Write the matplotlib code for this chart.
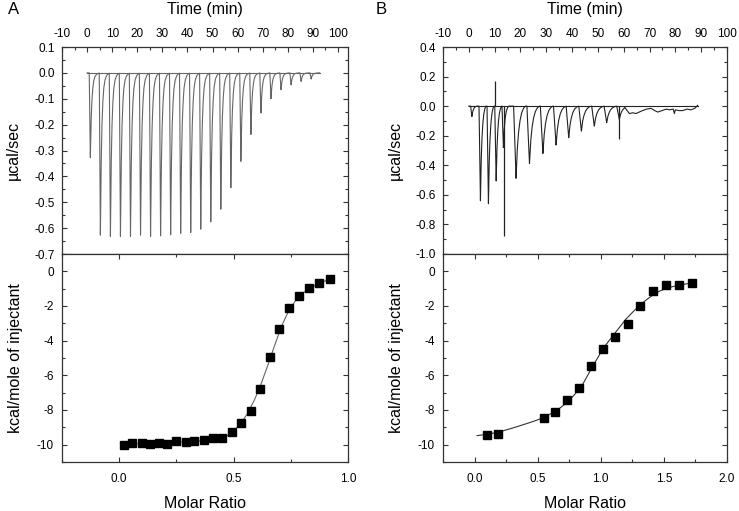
import numpy as np
import matplotlib as mpl
mpl.use("agg")
import matplotlib.pyplot as plt
from matplotlib.ticker import MultipleLocator, FormatStrFormatter

plt.rcParams["font.family"] = ["Liberation Sans", "DejaVu Sans"]
plt.rcParams["axes.unicode_minus"] = False

# ---------- panel A ----------
# injection times (min) and peak minima (µcal/sec) of the thermogram
inj_time_a = [1.3, 5.3, 9.3, 13.3, 17.3, 21.3, 25.3, 29.3, 33.3, 37.3, 41.3, 45.3,
              49.3, 53.3, 57.3, 61.3, 65.3, 69.3, 73.3, 77.3, 81.3, 85.3, 89.3]
peak_a = [-0.328, -0.627, -0.632, -0.632, -0.632, -0.627, -0.632, -0.630, -0.626,
          -0.620, -0.617, -0.604, -0.576, -0.527, -0.444, -0.342, -0.238, -0.155,
          -0.100, -0.065, -0.046, -0.033, -0.024]
base_a = [0.0, 92.7]  # baseline start / end (min)

# integrated heats
ratio_a = [0.020, 0.058, 0.098, 0.134, 0.173, 0.211, 0.250, 0.290, 0.329, 0.370,
           0.410, 0.450, 0.491, 0.531, 0.574, 0.614, 0.658, 0.699, 0.742, 0.786,
           0.830, 0.873, 0.920]
heat_a = [-10.02, -9.88, -9.92, -9.98, -9.88, -9.96, -9.79, -9.85, -9.81, -9.71,
          -9.62, -9.62, -9.27, -8.77, -8.03, -6.76, -4.96, -3.33, -2.09, -1.40,
          -0.96, -0.69, -0.46]
fit_x_a = [0.02, 0.10, 0.20, 0.30, 0.38, 0.43, 0.47, 0.50, 0.53, 0.56, 0.59,
           0.62, 0.65, 0.68, 0.71, 0.74, 0.77, 0.80, 0.84, 0.88, 0.92]
fit_y_a = [-9.98, -9.94, -9.89, -9.83, -9.75, -9.66, -9.50, -9.22, -8.80, -8.22,
           -7.45, -6.50, -5.40, -4.25, -3.15, -2.30, -1.70, -1.28, -0.92, -0.66, -0.46]

# ---------- panel B ----------
inj_time_b = [1.2, 4.5, 7.6, 10.6, 13.4, 18.3, 23.5, 28.7, 33.8, 38.7, 43.6,
              48.6, 53.4, 58.3]
peak_b = [-0.07, -0.64, -0.66, -0.506, -0.28, -0.488, -0.389, -0.32, -0.263,
          -0.213, -0.169, -0.135, -0.112, -0.09]
width_b = [0.5, 0.55, 0.55, 0.55, 0.55, 0.95, 1.0, 1.0, 1.0, 1.0, 1.0, 1.0, 1.0, 1.0]
spike_time_b = [10.1, 13.6, 58.3]
spike_val_b = [0.17, -0.88, -0.225]
tail_t_b = [60.5, 61.3, 62.2, 63.5, 64.8, 66.0, 67.3, 68.8, 70.6, 72.0, 73.2,
            74.8, 76.5, 77.7, 79.2, 79.6, 80.0, 81.4, 82.8, 84.5, 86.0, 87.5, 88.6]
tail_y_b = [-0.01, -0.03, -0.05, -0.045, -0.05, -0.04, -0.03, -0.02, -0.015,
            -0.03, -0.04, -0.03, -0.02, -0.025, -0.02, -0.05, -0.025, -0.03,
            -0.03, -0.02, -0.025, -0.015, 0.005]
base_b = [0.0, 88.6]

ratio_b = [0.100, 0.185, 0.548, 0.640, 0.733, 0.828, 0.926, 1.018, 1.116, 1.214,
           1.312, 1.415, 1.516, 1.617, 1.720]
heat_b = [-9.43, -9.39, -8.47, -8.14, -7.45, -6.74, -5.44, -4.48, -3.79, -3.01,
          -2.01, -1.11, -0.79, -0.80, -0.65]
fit_x_b = [0.02, 0.10, 0.18, 0.25, 0.32, 0.38, 0.44, 0.50, 0.56, 0.62, 0.68,
           0.74, 0.80, 0.86, 0.93, 1.02, 1.11, 1.20, 1.26, 1.31, 1.36, 1.41,
           1.46, 1.52, 1.57, 1.62, 1.67, 1.73]
fit_y_b = [-9.48, -9.40, -9.29, -9.15, -9.00, -8.86, -8.72, -8.57, -8.38, -8.15,
           -7.87, -7.52, -7.05, -6.48, -5.55, -4.44, -3.58, -2.75, -2.30, -1.95,
           -1.65, -1.38, -1.16, -0.98, -0.88, -0.80, -0.73, -0.67]

# peak shape templates (offset from peak time in min, fraction of depth)
shape_a_dt = [-0.45, 0.0, 0.25, 0.55, 0.9, 1.3, 1.8, 2.4, 3.1, 3.8]
shape_a_fr = [0.0, 1.0, 0.62, 0.36, 0.20, 0.10, 0.045, 0.018, 0.006, 0.0]
shape_b_dt = [-1.0, 0.0, 0.4, 0.9, 1.5, 2.2, 3.0, 3.8]
shape_b_fr = [0.0, 1.0, 0.65, 0.40, 0.22, 0.10, 0.03, 0.0]


def trace(times, depths, dt, fr, t0, t1, widths=None):
    t = np.arange(t0, t1, 0.02)
    y = np.zeros_like(t)
    if widths is None:
        widths = [1.0] * len(times)
    for ti, d, w in zip(times, depths, widths):
        y += d * np.interp((t - ti) / w, dt, fr, left=0, right=0)
    return t, y


W, H = 739, 511
fig = plt.figure(figsize=(W / 100, H / 100), dpi=100)


def box(l, t, r, b):
    return [l / W, 1 - b / H, (r - l) / W, (b - t) / H]


ax_a1 = fig.add_axes(box(62, 47, 348, 254))
ax_a2 = fig.add_axes(box(62, 254, 348, 462))
ax_b1 = fig.add_axes(box(443, 47, 727, 254))
ax_b2 = fig.add_axes(box(443, 254, 727, 462))

spine_col = "#333333"
for ax in (ax_a1, ax_a2, ax_b1, ax_b2):
    for s in ax.spines.values():
        s.set_color(spine_col)
        s.set_linewidth(0.9)
    ax.tick_params(which="both", direction="in", colors=spine_col, labelcolor="black",
                   labelsize=8.5, width=0.8)
    ax.tick_params(which="major", length=3.5)
    ax.tick_params(which="minor", length=2)

# top thermograms
for ax in (ax_a1, ax_b1):
    ax.xaxis.tick_top()
    ax.xaxis.set_label_position("top")
    ax.tick_params(which="both", top=True, bottom=False, left=True, right=True,
                   labeltop=True, labelbottom=False, pad=5)
    ax.xaxis.set_major_locator(MultipleLocator(10))
    ax.xaxis.set_minor_locator(MultipleLocator(5))
    ax.set_xlabel("Time (min)", fontsize=11.5, labelpad=10)
    ax.set_ylabel("µcal/sec", fontsize=11.5)

ta, ya = trace(inj_time_a, peak_a, shape_a_dt, shape_a_fr, base_a[0], base_a[1])
ax_a1.plot(ta, ya, color="#666666", lw=0.8)
ax_a1.plot(base_a, [0, 0], color="#666666", lw=0.8)
ax_a1.set_xlim(-10, 104)
ax_a1.set_ylim(-0.7, 0.1)
ax_a1.yaxis.set_major_locator(MultipleLocator(0.1))
ax_a1.yaxis.set_minor_locator(MultipleLocator(0.05))
ax_a1.yaxis.set_major_formatter(FormatStrFormatter("%.1f"))

tb, yb = trace(inj_time_b, peak_b, shape_b_dt, shape_b_fr, base_b[0], tail_t_b[0], width_b)
tb = np.concatenate([tb, tail_t_b])
yb = np.concatenate([yb, tail_y_b])
ax_b1.plot(tb, yb, color="#222222", lw=0.8)
ax_b1.vlines(spike_time_b, 0, spike_val_b, color="#222222", lw=0.9)
ax_b1.plot(base_b, [0, 0], color="#222222", lw=0.8)
ax_b1.set_xlim(-10, 100)
ax_b1.set_ylim(-1.0, 0.4)
ax_b1.yaxis.set_major_locator(MultipleLocator(0.2))
ax_b1.yaxis.set_minor_locator(MultipleLocator(0.1))
ax_b1.yaxis.set_major_formatter(FormatStrFormatter("%.1f"))

# isotherms
for ax in (ax_a2, ax_b2):
    ax.tick_params(which="both", top=True, bottom=True, left=True, right=True)
    ax.tick_params(axis="x", pad=8)
    ax.tick_params(axis="y", pad=6)
    ax.set_ylim(-11, 1)
    ax.yaxis.set_major_locator(MultipleLocator(2))
    ax.yaxis.set_minor_locator(MultipleLocator(1))
    ax.set_xlabel("Molar Ratio", fontsize=11.5, labelpad=8)
    ax.set_ylabel("kcal/mole of injectant", fontsize=11.5)

ax_a2.plot(fit_x_a, fit_y_a, color="#666666", lw=0.8)
ax_a2.plot(ratio_a, heat_a, "s", color="black", ms=6)
ax_a2.set_xlim(-0.25, 1.0)
ax_a2.xaxis.set_major_locator(MultipleLocator(0.5))
ax_a2.xaxis.set_minor_locator(MultipleLocator(0.25))
ax_a2.xaxis.set_major_formatter(FormatStrFormatter("%.1f"))

ax_b2.plot(fit_x_b, fit_y_b, color="#333333", lw=0.8)
ax_b2.plot(ratio_b, heat_b, "s", color="black", ms=6)
ax_b2.set_xlim(-0.25, 2.0)
ax_b2.xaxis.set_major_locator(MultipleLocator(0.5))
ax_b2.xaxis.set_minor_locator(MultipleLocator(0.25))
ax_b2.xaxis.set_major_formatter(FormatStrFormatter("%.1f"))

ax_a1.yaxis.set_label_coords(-0.143, 0.5)
ax_a2.yaxis.set_label_coords(-0.136, 0.5)
ax_b1.yaxis.set_label_coords(-0.141, 0.5)
ax_b2.yaxis.set_label_coords(-0.137, 0.5)

fig.text(8 / W, 1 - 9 / H, "A", fontsize=12, va="center", ha="left")
fig.text(376 / W, 1 - 9 / H, "B", fontsize=12, va="center", ha="left")

fig.savefig("out.png", dpi=100)
